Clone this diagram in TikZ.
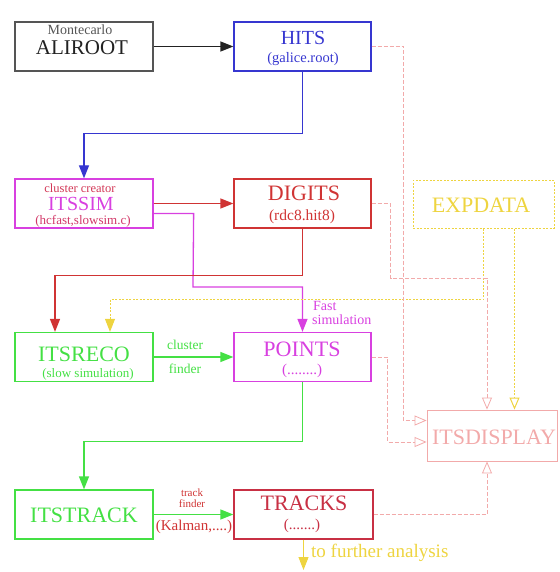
\documentclass[tikz,border=0pt]{standalone}
\usepackage{fontspec}
\setmainfont{Liberation Serif}
\usetikzlibrary{arrows.meta,calc}
\begin{document}
\definecolor{cblk}{HTML}{222222}
\definecolor{cgray}{HTML}{555555}
\definecolor{cblue}{HTML}{3636D0}
\definecolor{cmag}{HTML}{D840E0}
\definecolor{cred}{HTML}{D03434}
\definecolor{cyel}{HTML}{EED440}
\definecolor{cgrn}{HTML}{44E044}
\definecolor{cpink}{HTML}{F2AAAA}
\definecolor{ccrim}{HTML}{C83044}
\tikzset{
  box/.style={draw, line width=1.3pt, minimum width=138pt, minimum height=49pt, inner sep=0pt},
  ttl/.style={font=\fontsize{22}{24}\selectfont, inner sep=0pt},
  sub/.style={font=\fontsize{14.5}{15}\selectfont, inner sep=0pt},
  lbl/.style={font=\fontsize{13.5}{14}\selectfont, inner sep=0pt},
  conn/.style={line width=1.3pt, -{Triangle[length=13pt,width=10pt]}},
  pinkc/.style={cpink, line width=0.8pt, dashed, dash pattern=on 4pt off 2pt, -{Triangle[open,length=12pt,width=10pt]}},
  yelc/.style={cyel, line width=1pt, dash pattern=on 2pt off 1.5pt},
}
\begin{tikzpicture}[x=1pt,y=-1pt]
\useasboundingbox (0,0) rectangle (559,572);
% boxes
\node[box, draw=cgray] (aliroot) at (84,46.5) {};
\node[box, draw=cblue, minimum width=137pt] (hits) at (302.5,46.5) {};
\node[box, draw=cmag] (itssim) at (84,203.5) {};
\node[box, draw=cred, minimum width=137pt] (digits) at (302.5,203.5) {};
\node[box, draw=cyel, line width=1pt, dash pattern=on 2pt off 1.5pt, minimum width=141pt, minimum height=48pt] (expdata) at (483.5,204) {};
\node[box, draw=cgrn] (itsreco) at (84,357) {};
\node[box, draw=cmag, minimum width=137pt] (points) at (302.5,357) {};
\node[box, draw=cpink, line width=0.9pt, minimum width=130pt, minimum height=51pt] (itsdisplay) at (492,435.5) {};
\node[box, draw=cgrn] (itstrack) at (84,514.5) {};
\node[box, draw=ccrim, minimum width=139pt] (tracks) at (303.5,514.5) {};
% texts
\node[lbl, font=\fontsize{14}{15}\selectfont, text=cgray] (t1a) at (80,30) {Montecarlo};
\node[ttl, font=\fontsize{21}{23}\selectfont, text=cblk] (t1b) at (82,48) {ALIROOT};
\node[ttl, font=\fontsize{20}{22}\selectfont, text=cblue] (t2a) at (303,38) {HITS};
\node[sub, text=cblue] (t2b) at (303,59) {(galice.root)};
\node[lbl, font=\fontsize{12.5}{13}\selectfont, text=cred!80!cmag] (t3a) at (80,188) {cluster creator};
\node[ttl, font=\fontsize{20}{22}\selectfont, text=cmag] (t3b) at (81,204) {ITSSIM};
\node[sub, font=\fontsize{13}{14}\selectfont, text=cred!70!cmag] (t3c) at (83,221) {(hcfast,slowsim.c)};
\node[ttl, text=cred] (t4a) at (304,193) {DIGITS};
\node[sub, font=\fontsize{15.5}{16}\selectfont, text=cred] (t4b) at (302,217) {(rdc8.hit8)};
\node[ttl, text=cyel] (t5) at (481,205) {EXPDATA};
\node[ttl, text=cgrn] (t6a) at (84,354) {ITSRECO};
\node[sub, font=\fontsize{13}{14}\selectfont, text=cgrn] (t6b) at (88,374.5) {(slow simulation)};
\node[ttl, text=cmag] (t7a) at (302,349) {POINTS};
\node[sub, font=\fontsize{15}{16}\selectfont, text=cmag] (t7b) at (302,371) {(........)};
\node[ttl, text=cpink] (t8) at (494,437) {ITSDISPLAY};
\node[ttl, text=cgrn] (t9) at (84,515) {ITSTRACK};
\node[ttl, text=ccrim] (t10a) at (304,503) {TRACKS};
\node[sub, font=\fontsize{15}{16}\selectfont, text=ccrim] (t10b) at (302,526) {(.......)};
% connectors
\draw[conn, cblk] (aliroot.east) -- (hits.west);
\draw[conn, cblue] (hits.south) -- ++(0,62) -| (itssim.north);
\draw[conn, cred] (itssim.east) -- (digits.west);
\coordinate (m1) at (193,287);
\draw[conn, cmag] ($(itssim.east)+(0,10)$) -- ++(40,0) -- (m1) -| (points.north);
\draw[conn, cred] (digits.south) -- ++(0,47) -| ($(itsreco.north)+(-29,0)$);
\draw[yelc, -{Triangle[length=13pt,width=10pt]}] (expdata.south) -- ++(0,71) -| ($(itsreco.north)+(26,0)$);
\coordinate (e2) at ($(expdata.south)+(31,0)$);
\draw[yelc, -{Triangle[open,length=12pt,width=10pt]}] (e2) -- (e2 |- itsdisplay.north);
\draw[pinkc] (hits.east) -- ++(32,0) |- ($(itsdisplay.west)+(0,-15)$);
\coordinate (d1) at (487,278);
\draw[pinkc] (digits.east) -- ++(19,0) |- (d1) -- (d1 |- itsdisplay.north);
\draw[pinkc] (points.east) -- ++(16,0) |- ($(itsdisplay.west)+(0,6.5)$);
\draw[pinkc] (tracks.east) -| (d1 |- itsdisplay.south);
\draw[conn, cgrn] (itsreco.east) -- (points.west);
\draw[conn, cgrn] (points.south) -- ++(0,59) -| (itstrack.north);
\draw[conn, cgrn] (itstrack.east) -- (tracks.west);
\coordinate (fa) at (303.5,570);
\draw[yelc, solid, line width=1pt, -{Triangle[length=13pt,width=10pt]}] (tracks.south) -- (fa);
% labels
\node[lbl, text=cgrn] (l1) at (185,345) {cluster};
\node[lbl, text=cgrn] (l2) at (185,369) {finder};
\node[lbl, font=\fontsize{14}{15}\selectfont, text=cmag, anchor=west] (l3) at (313,306) {Fast};
\node[lbl, font=\fontsize{14}{15}\selectfont, text=cmag, anchor=west] (l4) at (312,320) {simulation};
\node[font=\fontsize{11}{11}\selectfont, text=cred, inner sep=0pt] (l5a) at (192,493) {track};
\node[font=\fontsize{11}{11}\selectfont, text=cred, inner sep=0pt] (l5b) at (192,503.5) {finder};
\node[font=\fontsize{15}{16}\selectfont, text=cred, inner sep=0pt] (l6) at (194,527) {(Kalman,....)};
\node[font=\fontsize{19}{20}\selectfont, text=cyel, anchor=west, inner sep=0pt] (l7) at (311,553) {to further analysis};
\end{tikzpicture}
\end{document}
